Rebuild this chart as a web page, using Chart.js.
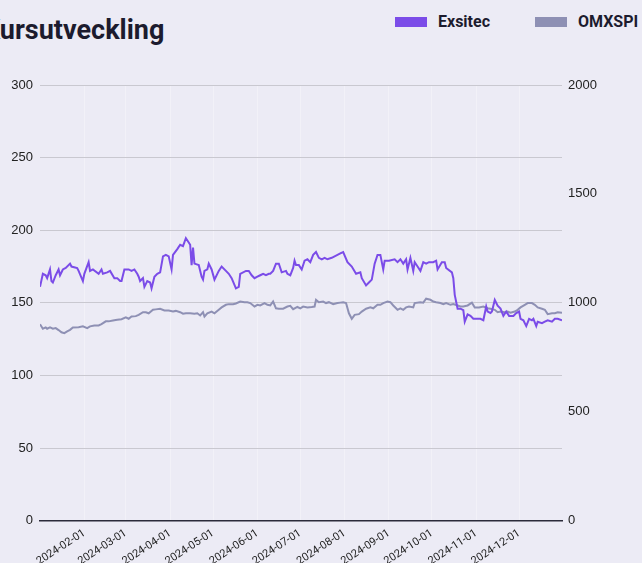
<!DOCTYPE html>
<html lang="sv">
<head>
    <meta charset="UTF-8">
    <title>Kursutveckling</title>
    <style>
        body {
            margin: 0;
            background-color: #ecebf5;
            overflow: hidden;
            font-family: Roboto, sans-serif;
        }
        .title {
            position: absolute;
            left: -17px;
            top: 13px;
            margin: 0;
            font-size: 27px;
            line-height: 34px;
            font-weight: 700;
            color: #1c1b2e;
        }
        #legend {
            position: absolute;
            left: 395px;
            top: 12px;
            display: flex;
            align-items: center;
            font-size: 16px;
            font-weight: 700;
            color: #1c1b2e;
        }
        .legend-item {
            display: flex;
            align-items: center;
            margin-right: 45px;
        }
        .legend-box {
            width: 32px;
            height: 10px;
            margin-right: 11px;
        }
        .chart-box {
            position: absolute;
            left: 0;
            top: 0;
            width: 642px;
            height: 600px;
        }
    </style>
    <script src="https://cdn.jsdelivr.net/npm/chart.js"></script>
</head>
<body>
    <h2 class="title">Kursutveckling</h2>
    <div id="legend"></div>
    <div class="chart-box">
        <canvas id="priceChart"></canvas>
    </div>

    <script>
        // x = day of year 2024 (0 = Jan 1)
        const exsitecDays = [0,2,4,5,7,8,9,11,13,14,16,18,21,22,26,27,30,31,34,35,37,41,43,44,47,49,52,54,56,57,59,62,64,66,68,69,70,72,73,75,77,78,80,82,84,86,88,90,92,93,96,98,100,102,104,105,106,107,108,111,113,114,115,117,118,120,122,125,127,130,132,134,137,139,140,144,146,148,150,152,154,156,158,160,161,163,165,167,169,172,173,175,177,178,179,181,183,185,187,189,191,193,195,197,199,201,204,208,210,212,215,218,221,224,225,228,230,232,234,236,238,240,241,244,248,250,252,254,256,257,259,261,262,264,266,268,270,272,275,277,278,281,283,284,288,289,290,292,294,296,297,299,301,303,305,308,310,312,313,315,316,318,320,322,324,326,328,331,333,335,336,338,340,342,344,345,347,348,351,353,355,358,360,362,365];
        const exsitecValues = [161,170,169,167,173,165,164,169,173,169,173,174,177,175,174,172,165,170,178,172,173,170,173,170,171,172,167,167,165,165,173,173,172,173,170,168,165,167,161,165,164,160,168,170,171,182,183,182,173,183,187,190,189,194.5,191.5,190,176,188,177,176,168,166,172,173,177,173,166,172,175,172,170,167,160,161,170,172,172,169,167,168,169,170,169,170,170,172,177,177,171,172,170,169,174,179,176,176,173,179,180,178,183,185,181,180,181,180,181,183,184,185,178,175,170,171,167,162,164,166,177,183,183,173,179,179,180,178,180,177,180,173,181,172,178,175,172,178,177,178,178,179,173,178,178,174,171,167,155.5,146,146,145,137,142,141,139,139,139,138,147.5,144,143,144,152,148,146,141,144,141,141,143,144,139,138,134,139,138,139,134,137,136,137,138,137,139,139,138];

        const omxDays = [0,2,4,5,7,9,11,13,15,17,19,21,23,27,30,33,35,38,41,43,46,48,51,54,57,60,62,64,67,69,72,74,76,79,81,84,87,90,93,95,98,100,102,105,108,110,112,114,115,117,120,122,125,127,130,132,135,137,140,143,145,147,150,152,154,157,159,161,163,165,167,170,173,175,177,180,182,184,187,190,192,193,195,198,200,202,205,208,210,212,214,216,218,220,223,225,228,231,233,236,238,240,243,245,247,250,252,254,256,258,261,262,266,268,270,273,275,277,280,282,284,287,289,292,294,296,299,302,304,307,310,313,315,318,320,322,325,327,329,332,334,336,339,341,344,346,348,351,353,355,358,360,362,365];
        const omxValues = [902,881,887,881,887,881,884,875,865,861,869,876,887,888,892,884,892,896,896,902,915,915,919,922,925,933,927,937,939,945,957,957,952,968,970,973,965,965,960,963,957,950,952,952,950,952,942,957,937,952,960,952,968,979,991,994,994,997,1006,1003,1003,999,983,991,988,999,991,988,1006,975,973,973,983,986,971,981,975,983,979,981,983,1014,1003,1006,999,1003,994,999,1001,1003,999,952,927,945,948,960,973,979,975,991,991,999,1006,1003,988,968,975,968,979,983,979,999,1003,1001,1019,1014,1006,1003,999,994,999,991,994,988,983,983,988,1001,979,979,983,975,973,968,957,960,957,960,955,960,968,979,991,999,999,991,979,973,968,948,952,952,957,955];

        const monthTicks = [31, 60, 91, 121, 152, 182, 213, 244, 274, 305, 335];
        const tickLabels = ['2024-02-01', '2024-03-01', '2024-04-01', '2024-05-01', '2024-06-01', '2024-07-01',
            '2024-08-01', '2024-09-01', '2024-10-01', '2024-11-01', '2024-12-01'];

        const toPoints = (days, values) => days.map((d, i) => ({ x: d, y: values[i] }));

        const tickFont = { family: "'Liberation Sans', Arial, sans-serif", size: 13 };

        const ctx = document.getElementById('priceChart').getContext('2d');
        const priceChart = new Chart(ctx, {
            type: 'line',
            data: {
                datasets: [{
                    label: 'Exsitec',
                    data: toPoints(exsitecDays, exsitecValues),
                    borderColor: '#7b4ce8',
                    backgroundColor: '#7b4ce8',
                    borderWidth: 2,
                    pointRadius: 0,
                    yAxisID: 'y'
                }, {
                    label: 'OMXSPI',
                    data: toPoints(omxDays, omxValues),
                    borderColor: '#8e90b4',
                    backgroundColor: '#8e90b4',
                    borderWidth: 2,
                    pointRadius: 0,
                    yAxisID: 'y1'
                }]
            },
            options: {
                responsive: true,
                maintainAspectRatio: false,
                animation: false,
                layout: {
                    padding: { top: 85, bottom: 26, left: 0, right: 0 }
                },
                plugins: {
                    legend: { display: false },
                    tooltip: { enabled: true }
                },
                scales: {
                    x: {
                        type: 'linear',
                        min: 0,
                        max: 365,
                        afterBuildTicks: axis => {
                            axis.ticks = monthTicks.map(v => ({ value: v }));
                        },
                        ticks: {
                            autoSkip: false,
                            minRotation: 33,
                            maxRotation: 33,
                            padding: 6,
                            color: '#222222',
                            font: { family: 'Roboto, sans-serif', size: 11 },
                            callback: (value, index) => tickLabels[index]
                        },
                        grid: {
                            color: 'rgba(255, 255, 255, 0.3)',
                            drawTicks: false
                        },
                        border: {
                            color: '#2b2b3a',
                            width: 1.5
                        }
                    },
                    y: {
                        position: 'left',
                        min: 0,
                        max: 300,
                        afterFit: scale => { scale.width = 40; },
                        ticks: {
                            stepSize: 50,
                            padding: 7,
                            color: '#222222',
                            font: tickFont
                        },
                        grid: {
                            color: '#c9c8d0',
                            drawTicks: false
                        },
                        border: { display: false }
                    },
                    y1: {
                        position: 'right',
                        min: 0,
                        max: 2000,
                        afterFit: scale => { scale.width = 80; },
                        ticks: {
                            stepSize: 500,
                            padding: 6,
                            color: '#222222',
                            font: tickFont,
                            callback: value => String(value)
                        },
                        grid: { display: false, drawTicks: false },
                        border: { display: false }
                    }
                }
            }
        });

        // html legend built from the chart's own legend items
        const legendEl = document.getElementById('legend');
        Chart.defaults.plugins.legend.labels.generateLabels(priceChart).forEach(item => {
            const row = document.createElement('div');
            row.className = 'legend-item';
            const box = document.createElement('span');
            box.className = 'legend-box';
            box.style.background = item.fillStyle;
            const text = document.createElement('span');
            text.textContent = item.text;
            row.appendChild(box);
            row.appendChild(text);
            legendEl.appendChild(row);
        });
    </script>
</body>
</html>
